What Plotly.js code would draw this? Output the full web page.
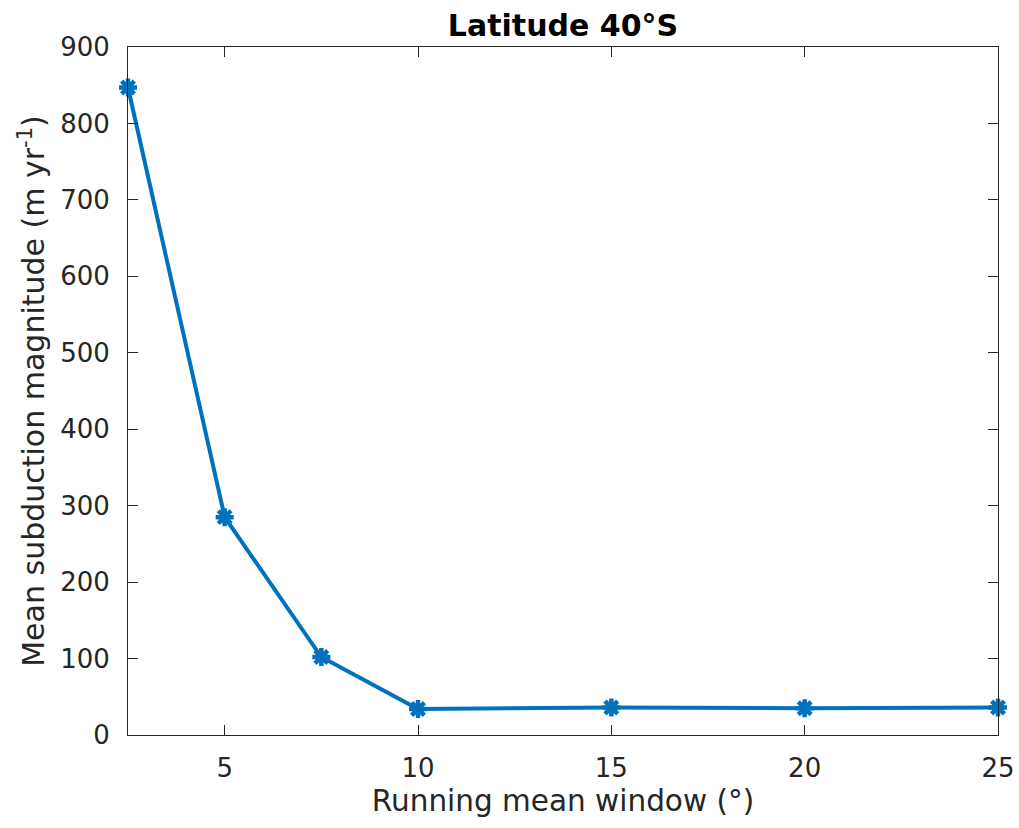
<!DOCTYPE html>
<html>
<head>
<meta charset="utf-8">
<script src="https://cdn.plot.ly/plotly-3.0.1.min.js"></script>
<style>html,body{margin:0;padding:0;background:#fff;}#chart{width:1019px;height:828px;}</style>
</head>
<body>
<div id="chart"></div>
<script>
const windowDeg = [2.5, 5, 7.5, 10, 15, 20, 25];
const subduction = [847, 285, 102, 34, 36, 35, 36];
const xTicks = [5, 10, 15, 20, 25];
const yTicks = [0, 100, 200, 300, 400, 500, 600, 700, 800, 900];

const trace = {
  x: windowDeg,
  y: subduction,
  type: 'scatter',
  mode: 'lines+markers',
  line: {color: '#0072BD', width: 4},
  marker: {symbol: 'asterisk-open', size: 15, color: '#0072BD', line: {color: '#0072BD', width: 4.5}},
  cliponaxis: false,
  hoverinfo: 'x+y'
};

const axisCommon = {
  showgrid: false,
  zeroline: false,
  showline: true,
  linecolor: '#262626',
  linewidth: 1,
  mirror: 'ticks',
  ticks: 'inside',
  ticklen: 10,
  tickwidth: 1,
  tickcolor: '#262626',
  tickfont: {family: 'DejaVu Sans', size: 26, color: '#262626'}
};

const layout = {
  width: 1019,
  height: 828,
  margin: {l: 128, r: 21, t: 47, b: 93},
  paper_bgcolor: '#fff',
  plot_bgcolor: '#fff',
  showlegend: false,
  title: {text: '<b>Latitude 40°S</b>', font: {family: 'DejaVu Sans', size: 30, color: '#000'}, x: 0.5, xanchor: 'center', xref: 'paper', y: 1 - 25/828, yanchor: 'middle', yref: 'container'},
  xaxis: Object.assign({}, axisCommon, {
    range: [2.5, 25],
    tickvals: xTicks,
    ticktext: xTicks.map(String),
    ticklabelstandoff: 10,
    title: {text: 'Running mean window (°)', font: {family: 'DejaVu Sans', size: 29.5, color: '#262626'}, standoff: 8}
  }),
  yaxis: Object.assign({}, axisCommon, {
    range: [0, 900],
    tickvals: yTicks,
    ticktext: yTicks.map(String),
    ticklabelstandoff: 12,
    title: {text: 'Mean subduction magnitude (m yr<sup>-1</sup>)', font: {family: 'DejaVu Sans', size: 30, color: '#262626'}, standoff: 6}
  })
};

Plotly.newPlot('chart', [trace], layout, {displayModeBar: false, staticPlot: true});
</script>
</body>
</html>
